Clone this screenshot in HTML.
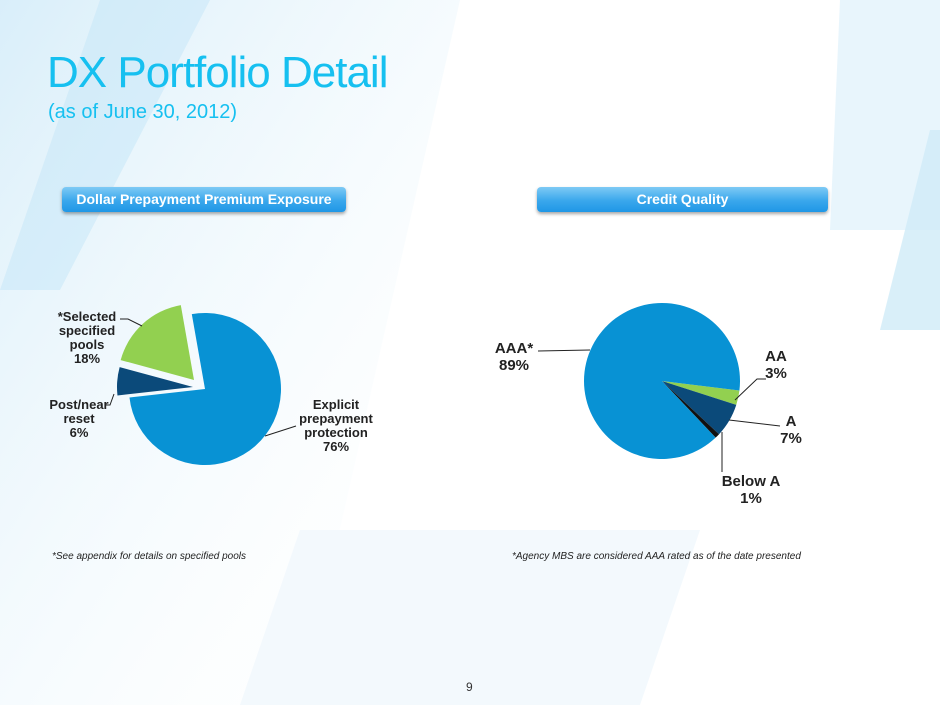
<!DOCTYPE html>
<html><head><meta charset="utf-8"><style>
body{margin:0;width:940px;height:705px;overflow:hidden;background:#fff;font-family:"Liberation Sans",sans-serif;position:relative}
.t{position:absolute;margin:0}
.hdr{position:absolute;top:187px;height:25px;border-radius:4px;background:linear-gradient(#7fcaf5,#3aa7ec 55%,#1f97e6);box-shadow:0 2px 3px rgba(0,0,0,.35);color:#fff;font-weight:bold;font-size:14px;line-height:25px;text-align:center}
.foot{position:absolute;top:551px;font-size:10px;font-style:italic;color:#222}
</style></head><body>
<svg width="940" height="705" style="position:absolute;left:0;top:0">
<defs><linearGradient id="g1" x1="0" y1="0" x2="1" y2="1"><stop offset="0" stop-color="#cfeaf8"/><stop offset="1" stop-color="#fff" stop-opacity="0"/></linearGradient></defs>
<polygon points="0,0 460,0 300,705 0,705" fill="url(#g1)" opacity="0.8"/>
<polygon points="100,0 210,0 60,290 0,290" fill="#c4e6f7" opacity="0.5"/>
<polygon points="840,0 940,0 940,230 830,230" fill="#e2f3fb" opacity="0.8"/>
<polygon points="930,130 940,130 940,330 880,330" fill="#d0ebf8" opacity="0.8"/>
<polygon points="300,530 700,530 640,705 240,705" fill="#f3f9fd"/>
</svg>
<div class="t" style="left:47px;top:48px;font-size:44px;color:#16c0f0;letter-spacing:-1px">DX Portfolio Detail</div>
<div class="t" style="left:48px;top:101px;font-size:20px;color:#16c0f0">(as of June 30, 2012)</div>
<div class="hdr" style="left:62px;width:284px">Dollar Prepayment Premium Exposure</div>
<div class="hdr" style="left:537px;width:291px">Credit Quality</div>
<svg id="charts" width="940" height="705" style="position:absolute;left:0;top:0;font-family:'Liberation Sans',sans-serif;font-weight:bold;font-size:13px;fill:#222"></svg>
<div class="foot" style="left:52px">*See appendix for details on specified pools</div>
<div class="foot" style="left:512px">*Agency MBS are considered AAA rated as of the date presented</div>
<div class="t" style="left:466px;top:680px;font-size:12px;color:#333">9</div>
<script>
const leftCats=["Explicit prepayment protection","Post/near reset","*Selected specified pools"];
const leftVals=[76,6,18];
const rightCats=["AA","A","Below A","AAA*"];
const rightVals=[3,7,1,89];
const NS="http://www.w3.org/2000/svg";
const svg=document.getElementById('charts');
function wedge(cx,cy,r,a0,a1,col,name){
  const p=document.createElementNS(NS,'path');
  const r0=a0*Math.PI/180,r1=a1*Math.PI/180;
  const x0=cx+r*Math.cos(r0),y0=cy+r*Math.sin(r0),x1=cx+r*Math.cos(r1),y1=cy+r*Math.sin(r1);
  p.setAttribute('d',`M${cx},${cy}L${x0},${y0}A${r},${r} 0 ${a1-a0>180?1:0} 1 ${x1},${y1}Z`);
  p.setAttribute('fill',col);
  
  
  svg.appendChild(p);
}
function sum(a){return a.reduce((s,v)=>s+v,0)}
const lCols=['#0892d4','#0b4a7a','#92d050'];
const lOff=[[0,0],[-12,-2],[-11,-9]];
let a=-100,lt=sum(leftVals);
leftVals.forEach((v,i)=>{const s=v/lt*360;wedge(205+lOff[i][0],389+lOff[i][1],76,a,a+s,lCols[i],'left-slice-'+i);a+=s;});
const rCols=['#92d050','#0b4a7a','#111','#0892d4'];
a=7;let rt=sum(rightVals);
rightVals.forEach((v,i)=>{const s=v/rt*360;wedge(662,381,78,a,a+s,rCols[i],'right-slice-'+i);a+=s;});
function line(pts,name){const l=document.createElementNS(NS,'polyline');l.setAttribute('points',pts);l.setAttribute('fill','none');l.setAttribute('stroke','#222');l.setAttribute('stroke-width','1');svg.appendChild(l);}
function label(x,y,lines,name,size,lh){const t=document.createElementNS(NS,'text');t.setAttribute('x',x);t.setAttribute('y',y);t.setAttribute('text-anchor','middle');t.style.fontSize=size+'px';

lines.forEach((s,i)=>{const ts=document.createElementNS(NS,'tspan');ts.setAttribute('x',x);ts.setAttribute('dy',i?lh:0);ts.textContent=s;t.appendChild(ts);});svg.appendChild(t);}
line("120,319 128,319 142,326",'selected-leader');
line("105,405 110,405 114,394",'post-reset-leader');
line("265,436 296,426",'explicit-leader');
label(87,321,['*Selected','specified','pools',leftVals[2]+'%'],'selected-label',13,14);
label(79,409,['Post/near','reset',leftVals[1]+'%'],'post-reset-label',13,14);
label(336,409,['Explicit','prepayment','protection',leftVals[0]+'%'],'explicit-label',13,14);
line("538,351 590,350",'aaa-leader');
line("735,400 757,379 766,379",'aa-leader');
line("729,420 780,426",'a-leader');
line("722,432 722,472",'below-a-leader');
label(514,353,['AAA*',rightVals[3]+'%'],'aaa-label',15,17);
label(776,361,['AA',rightVals[0]+'%'],'aa-label',15,17);
label(791,426,['A',rightVals[1]+'%'],'a-label',15,17);
label(751,486,['Below A',rightVals[2]+'%'],'below-a-label',15,17);
</script>
</body></html>
